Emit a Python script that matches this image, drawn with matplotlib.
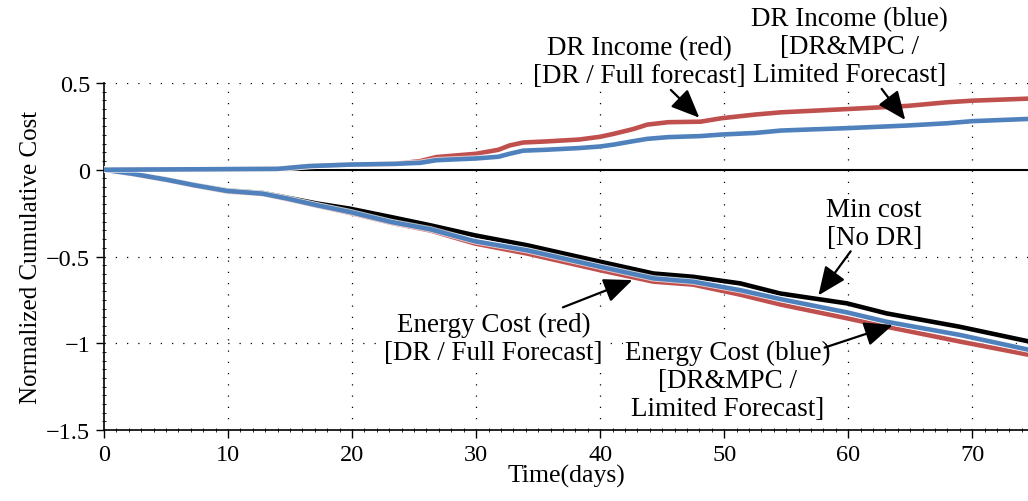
import matplotlib
matplotlib.use("Agg")
import matplotlib.pyplot as plt
import matplotlib.patheffects as pe
from matplotlib.ticker import MultipleLocator
import numpy as np

plt.rcParams["font.family"] = ["Liberation Serif", "DejaVu Serif"]

# ============================================================
# Data
# ============================================================
inc_days = [0, 14, 16.5, 20, 23.5, 25.5, 26.8, 30, 31.8, 32.7, 33.8, 35.6, 38.3, 40,
            41.1, 42.7, 43.8, 45.5, 48.1, 49.8, 52.5, 54.6, 60, 64.8, 68, 70, 74.6]
inc_red = [0, 0.005, 0.021, 0.03, 0.034, 0.05, 0.073, 0.092, 0.115, 0.14, 0.157, 0.163,
           0.174, 0.19, 0.207, 0.235, 0.26, 0.274, 0.277, 0.297, 0.318, 0.331, 0.35,
           0.368, 0.389, 0.398, 0.41]
inc_blue = [0, 0.005, 0.021, 0.03, 0.034, 0.04, 0.055, 0.065, 0.075, 0.092, 0.11, 0.115,
            0.125, 0.134, 0.145, 0.165, 0.178, 0.188, 0.194, 0.203, 0.212, 0.226, 0.24,
            0.255, 0.268, 0.28, 0.293]

cost_days = [0, 2.3, 5.1, 7.2, 9.9, 12.8, 14.7, 17.2, 19.8, 23.1, 26.3, 29.9, 34.1, 40,
             44.3, 47.5, 51.3, 54.5, 59.9, 63.1, 69, 74.6]
cost_black = [0, -0.023, -0.056, -0.086, -0.119, -0.134, -0.16, -0.195, -0.224, -0.272,
              -0.32, -0.378, -0.435, -0.53, -0.598, -0.617, -0.655, -0.713, -0.77,
              -0.828, -0.905, -0.99]
cost_blue = [0, -0.023, -0.058, -0.088, -0.122, -0.138, -0.165, -0.205, -0.243, -0.30,
             -0.343, -0.412, -0.464, -0.559, -0.626, -0.645, -0.694, -0.745, -0.822,
             -0.876, -0.952, -1.038]
cost_red = [0, -0.025, -0.06, -0.09, -0.125, -0.14, -0.168, -0.208, -0.248, -0.305,
            -0.35, -0.425, -0.483, -0.579, -0.645, -0.662, -0.72, -0.776, -0.856,
            -0.905, -0.99, -1.067]

xticks = [0, 10, 20, 30, 40, 50, 60, 70]
yticks = [-1.5, -1, -0.5, 0, 0.5]
ytick_labels = ["\u22121.5", "\u22121", "\u22120.5", "0", "0.5"]

RED = "#c0504d"
BLUE = "#4f81bd"

# ============================================================
# Plot
# ============================================================
fig = plt.figure(figsize=(10.28, 5.02), dpi=100)
ax = fig.add_axes([0.1012, 0.1414, 0.8988, 0.6913])

halo = [pe.Stroke(linewidth=4.6, foreground="white", alpha=0.7), pe.Normal()]

ax.axhline(0, color="black", lw=1.5, zorder=2)
ax.plot(cost_days, cost_black, color="black", lw=3.3, zorder=3, path_effects=halo)
ax.plot(cost_days, cost_red, color=RED, lw=3.3, zorder=4, path_effects=halo)
ax.plot(cost_days, cost_blue, color=BLUE, lw=3.3, zorder=5, path_effects=halo)
ax.plot(inc_days, inc_red, color=RED, lw=3.3, zorder=4, path_effects=halo)
ax.plot(inc_days, inc_blue, color=BLUE, lw=3.3, zorder=5, path_effects=halo)

ax.set_xlim(0, 74.5)
ax.set_ylim(-1.5, 0.5)
ax.set_xticks(xticks)
ax.set_yticks(yticks)
ax.set_yticklabels(ytick_labels)
ax.xaxis.set_minor_locator(MultipleLocator(1))
ax.yaxis.set_minor_locator(MultipleLocator(0.05))
ax.tick_params(which="major", direction="out", length=6, width=1, labelsize=17.5, pad=4)
ax.tick_params(which="minor", direction="inout", length=3, width=0.6)

for s in ["top", "right"]:
    ax.spines[s].set_visible(False)
for s in ["left", "bottom"]:
    ax.spines[s].set_linewidth(1.2)

# dotted grid
for x in xticks[1:]:
    ax.axvline(x, color="black", lw=0.9, ls=(0, (1, 8)), zorder=1)
for y in [-1, -0.5, 0.5]:
    ax.axhline(y, color="black", lw=0.9, ls=(0, (1, 8)), zorder=1)

ax.set_xlabel("Time(days)", fontsize=18.5, labelpad=-1)
ax.set_ylabel("Normalized Cumulative Cost", fontsize=18, labelpad=3)

# ============================================================
# Annotations
# ============================================================
box = dict(facecolor="white", edgecolor="none", pad=1.5)
arrow = dict(arrowstyle="-|>,head_length=0.7,head_width=0.3", mutation_scale=25,
             color="black", lw=1.6, shrinkA=0, shrinkB=0)

notes = [
    ("DR Income (red)\n[DR / Full forecast]", (43.2, 0.626), (45.7, 0.46), (48.0, 0.30)),
    ("DR Income (blue)\n[DR&MPC /\nLimited Forecast]", (60.1, 0.71), (62.7, 0.466), (64.6, 0.287)),
    ("Min cost\n[No DR]", (62.1, -0.31), (60.2, -0.47), (57.6, -0.724)),
    ("Energy Cost (red)\n[DR / Full Forecast]", (31.4, -0.97), (37.0, -0.793), (42.6, -0.636)),
    ("Energy Cost (blue)\n[DR&MPC /\nLimited Forecast]", (50.3, -1.213), (58.1, -1.025), (63.6, -0.895)),
]
for txt, tpos, tail, tip in notes:
    ax.annotate("", xy=tip, xytext=tail, arrowprops=arrow, zorder=7, annotation_clip=False)
    ax.text(tpos[0], tpos[1], txt, ha="center", va="center", fontsize=19.5,
            linespacing=1.15, bbox=box, zorder=6, clip_on=False)

fig.savefig("out.png", dpi=100)
